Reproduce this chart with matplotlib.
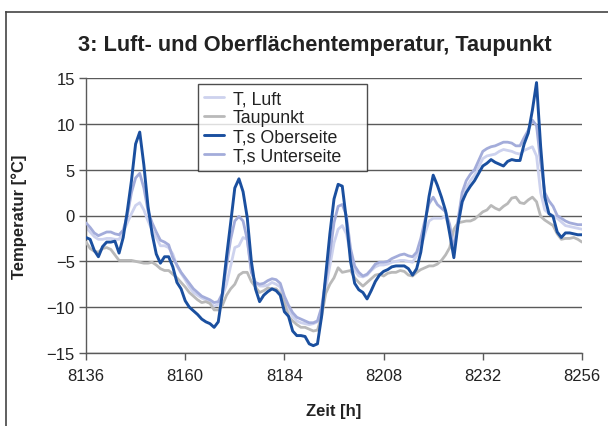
import numpy as np
import matplotlib
matplotlib.use("Agg")
import matplotlib.pyplot as plt
from matplotlib.lines import Line2D

# ---- data (hourly readings, hour 8136 .. 8256) ----
start_hour = 8136
end_hour = 8256
hours = np.arange(start_hour, end_hour + 1)

t_luft = [
    -1.3, -1.8, -2.3, -2.6, -2.6, -2.5, -2.5, -2.6, -2.6, -1.8,
    -0.8, 0.2, 1.1, 1.4, 0.6, -0.6, -1.6, -2.4, -3.3, -3.3,
    -3.5, -4.2, -5.5, -6.3, -7.0, -7.8, -8.4, -8.7, -9.0, -9.2,
    -9.5, -9.9, -9.7, -8.8, -7.5, -5.5, -3.5, -3.3, -2.4, -2.6,
    -6.0, -7.4, -7.7, -7.7, -7.6, -7.3, -7.5, -7.8, -9.3, -10.3,
    -11.0, -11.5, -11.7, -11.8, -11.9, -11.8, -11.6, -10.4, -8.0, -5.5,
    -3.0, -1.5, -1.1, -2.0, -4.2, -6.0, -6.6, -6.7, -6.5, -6.0,
    -5.6, -5.4, -5.4, -5.3, -5.1, -5.0, -4.9, -4.9, -5.0, -5.1,
    -4.4, -3.5, -2.0, -0.6, -0.3, -0.3, -0.3, -0.1, -1.5, -3.8,
    -1.0, 1.3, 3.0, 3.8, 4.4, 5.3, 6.2, 6.5, 6.6, 6.7,
    7.0, 7.2, 7.1, 7.0, 6.8, 6.7, 7.1, 7.3, 7.5, 6.5,
    2.5, 0.6, 0.2, 0.0, -0.3, -0.7, -1.1, -1.2, -1.3, -1.4,
    -1.5,
]

taupunkt = [
    -2.9, -3.6, -3.9, -4.0, -3.6, -3.5, -3.7, -4.3, -4.9, -4.9,
    -4.9, -4.9, -5.0, -5.1, -5.2, -5.2, -5.1, -5.4, -5.8, -6.0,
    -6.0, -6.4, -6.8, -7.3, -7.8, -8.4, -8.8, -9.2, -9.5, -9.4,
    -9.6, -10.3, -10.3, -9.8, -8.7, -8.0, -7.5, -6.5, -6.2, -6.2,
    -7.2, -7.8, -8.4, -8.2, -7.9, -8.0, -8.0, -8.5, -9.5, -11.0,
    -11.5, -11.9, -12.2, -12.2, -12.4, -12.6, -12.5, -11.0, -8.5, -7.5,
    -6.8, -5.7, -6.2, -6.1, -6.0, -6.8, -7.3, -7.7, -7.3, -6.9,
    -6.5, -6.4, -6.6, -6.3, -6.2, -6.2, -6.0, -6.1, -6.5, -6.6,
    -6.2, -5.9, -5.7, -5.5, -5.5, -5.3, -4.9, -4.3, -3.5, -1.5,
    -0.8, -0.7, -0.6, -0.6, -0.4, 0.0, 0.4, 0.6, 1.1, 0.8,
    0.6, 1.0, 1.3, 1.9, 2.0, 1.4, 1.3, 1.7, 2.0, 1.5,
    -0.1, -0.5, -0.8, -1.1, -2.0, -2.6, -2.5, -2.5, -2.4, -2.6,
    -2.9,
]

ts_oberseite = [
    -2.4, -2.6, -3.8, -4.5, -3.4, -2.9, -2.9, -2.8, -4.1, -2.4,
    0.5, 3.8, 7.8, 9.1, 5.5, 1.0, -2.0, -4.2, -5.2, -4.5,
    -4.5, -5.6, -7.3, -8.0, -9.3, -10.0, -10.4, -10.8, -11.3, -11.6,
    -11.8, -12.2, -11.6, -8.5, -4.5, -0.8, 3.0, 4.0, 2.6, -0.2,
    -5.0, -8.0, -9.4, -8.7, -8.3, -8.0, -8.2, -8.7, -10.5, -11.0,
    -12.6, -13.1, -13.1, -13.2, -14.0, -14.2, -14.0, -11.0, -6.5, -2.0,
    1.8, 3.4, 3.2, -0.5, -5.0, -7.4, -8.1, -8.4, -9.1, -8.2,
    -7.2, -6.5, -6.1, -5.9, -5.6, -5.5, -5.5, -5.5, -5.8, -6.5,
    -5.8, -4.0, -1.0, 2.1, 4.4, 3.3, 2.0, 0.5, -2.0, -4.6,
    -1.0, 1.5, 2.5, 3.2, 3.8, 4.6, 5.4, 5.7, 6.1, 5.8,
    5.6, 5.4, 5.9, 6.1, 6.0, 6.0, 7.8, 9.0, 11.5, 14.5,
    7.5, 2.0, 0.2, -0.1, -1.8, -2.4, -1.9, -1.9, -2.0, -2.1,
    -2.1,
]

ts_unterseite = [
    -0.8, -1.3, -1.9, -2.2, -2.0, -1.8, -1.8, -2.0, -2.1, -1.6,
    0.0, 2.5, 4.1, 4.6, 3.0, 0.5, -0.8, -1.8, -2.7, -2.9,
    -3.2, -4.6, -5.4, -6.2, -6.8, -7.4, -8.0, -8.4, -8.8, -9.0,
    -9.2, -9.5, -9.4, -8.5, -5.5, -2.6, -0.6, -0.1, -0.6, -2.6,
    -6.2, -7.3, -7.5, -7.4, -7.1, -6.9, -7.0, -7.4, -8.8, -9.8,
    -10.6, -11.1, -11.3, -11.5, -11.7, -11.7, -11.5, -10.0, -7.0, -4.2,
    -0.8, 1.0, 1.2, 0.0, -3.6, -5.5, -6.2, -6.6, -6.4, -5.9,
    -5.3, -5.1, -5.1, -5.0, -4.7, -4.5, -4.3, -4.2, -4.4, -4.5,
    -4.0, -2.5, -0.5, 1.3, 2.0, 1.2, 0.8, 0.4, -1.0, -3.8,
    -0.5, 2.5, 3.8, 4.5, 5.0, 6.0, 7.0, 7.3, 7.5, 7.6,
    7.8, 8.0, 8.0, 7.9, 7.6, 7.6, 8.5, 9.3, 10.4, 9.8,
    5.8, 2.5, 1.6, 1.0, 0.0, -0.3, -0.6, -0.8, -0.9, -1.0,
    -1.0,
]

series_labels = ["T, Luft", "Taupunkt", "T,s Oberseite", "T,s Unterseite"]
x_ticks = [8136, 8160, 8184, 8208, 8232, 8256]
y_ticks = [-15, -10, -5, 0, 5, 10, 15]
title = "3: Luft- und Oberflächentemperatur, Taupunkt"
x_label = "Zeit [h]"
y_label = "Temperatur [°C]"

# ---- styling ----
W, H = 608, 427
plt.rcParams['font.family'] = ['Liberation Sans', 'DejaVu Sans']
bold_fam = ['Liberation Sans', 'DejaVu Sans']

fig = plt.figure(figsize=(W / 100, H / 100), dpi=100)
ax = fig.add_axes([86 / W, 1 - 354 / H, 496 / W, 275 / H])

colors = ["#cdd2ee", "#b9b9b9", "#1a4f9f", "#a3acda"]
zorders = [2, 3, 5, 4]
widths = [2.0, 2.0, 2.1, 2.0]
data = [t_luft, taupunkt, ts_oberseite, ts_unterseite]
handles = []
for vals, lab, c, z, lw in zip(data, series_labels, colors, zorders, widths):
    ln, = ax.plot(hours, vals, color=c, lw=lw, zorder=z, label=lab,
                  solid_joinstyle='round', solid_capstyle='round')
    handles.append(ln)

ax.set_xlim(start_hour, end_hour)
ax.set_ylim(-15, 15)
ax.set_xticks(x_ticks)
ax.set_yticks(y_ticks)
ax.grid(axis='y', color='#5a5a5a', lw=1.0, zorder=1)
ax.set_axisbelow(True)
for s in ['top', 'right']:
    ax.spines[s].set_visible(False)
for s in ['left', 'bottom']:
    ax.spines[s].set_color('#5a5a5a')
    ax.spines[s].set_linewidth(1.0)
ax.tick_params(axis='both', direction='out', length=5, width=1.0,
               color='#5a5a5a', labelsize=12, labelcolor='#222222')
ax.tick_params(axis='x', pad=6)
ax.tick_params(axis='y', pad=3)

ax.set_xlabel(x_label, fontsize=12, fontweight='bold', family=bold_fam,
              color='#222222', labelpad=14)
ax.set_ylabel(y_label, fontsize=12, fontweight='bold', family=bold_fam,
              color='#222222', labelpad=14)

fig.text(315 / W, 1 - 45 / H, title, ha='center', va='center',
         fontsize=15.7, fontweight='bold', family=bold_fam, color='#222222')

leg = ax.legend(handles=handles, loc='upper left',
                bbox_to_anchor=(198 / W, 1 - 165 / H, 169 / W, 80 / H),
                bbox_transform=fig.transFigure, mode='expand',
                fontsize=12.8, frameon=True, fancybox=False,
                handlelength=1.1, handletextpad=0.5, labelspacing=0.12,
                borderpad=0.35, borderaxespad=0)
leg.get_frame().set_edgecolor('#222222')
leg.get_frame().set_linewidth(1.0)
for t in leg.get_texts():
    t.set_color('#222222')
leg.set_zorder(10)

# outer frame (left and top edges)
fig.add_artist(Line2D([6 / W, 6 / W], [0, 1 - 13 / H], transform=fig.transFigure,
                      color='#444444', lw=1.2))
fig.add_artist(Line2D([6 / W, 1], [1 - 13 / H, 1 - 13 / H], transform=fig.transFigure,
                      color='#444444', lw=1.2))

fig.savefig("out.png", dpi=100)
